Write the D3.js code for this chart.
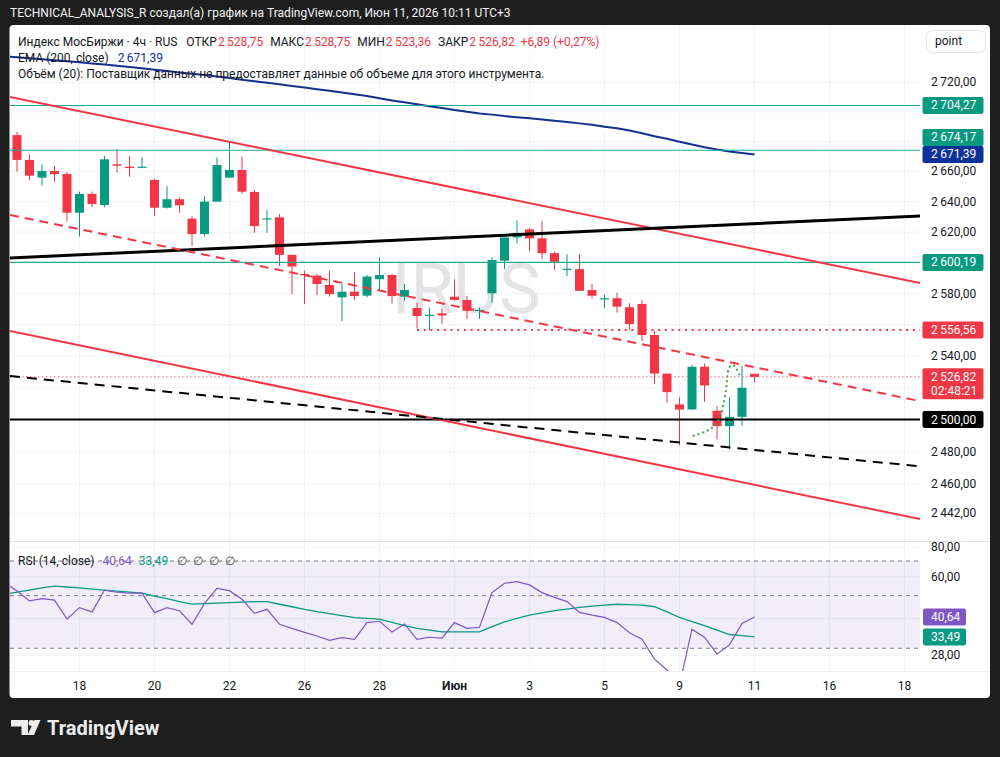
<!DOCTYPE html>
<html lang="ru">
<head>
<meta charset="UTF-8">
<title>Индекс МосБиржи 4ч</title>
<script src="https://d3js.org/d3.v7.min.js"></script>
<style>
  body{margin:0;background:#1e1e1e;}
  svg{display:block;font-family:Roboto,"Noto Sans",sans-serif;font-size:12px;}
</style>
</head>
<body>
<svg width="1000" height="757"></svg>
<script>
// 4h bars, index 0..59 (3 bars per trading day)
const opens  = [2684.3,2667.7,2655.9,2660.3,2658.3,2632.7,2645.1,2637.8,2664.8,2663.2,2662.8,2654.4,2636.0,2641.6,2628.8,2618.7,2640.0,2655.9,2661.0,2646.4,
                2628.6,2629.7,2605.1,2592.7,2591.6,2585.6,2577.6,2581.2,2578.7,2589.3,2592.0,2578.0,2570.7,2566.2,2567.3,2578.0,2575.9,2569.2,2580.2,2601.3,
                2616.5,2621.8,2615.9,2606.2,2595.8,2595.8,2582.3,2576.7,2577.0,2571.2,2573.3,2553.4,2528.9,2509.5,2506.3,2533.2,2505.5,2495.9,2501.7,2528.75];
const highs  = [2686.6,2671.6,2664.8,2663.8,2659.7,2646.6,2646.6,2670.3,2674.8,2670.3,2669.4,2655.1,2650.3,2642.4,2630.5,2643.7,2669.4,2679.2,2669.9,2647.7,
                2634.5,2631.7,2605.1,2594.8,2592.7,2594.8,2586.2,2593.8,2592.0,2603.3,2592.7,2586.2,2574.1,2571.0,2570.5,2589.2,2578.4,2571.1,2603.5,2616.5,
                2627.7,2622.4,2627.3,2607.2,2605.5,2605.7,2586.2,2579.1,2580.6,2573.8,2575.9,2556.1,2528.9,2513.9,2534.3,2535.3,2508.4,2513.9,2533.8,2528.75];
const lows   = [2659.9,2654.4,2650.6,2653.3,2627.0,2617.0,2636.3,2636.3,2659.2,2656.5,2662.8,2630.5,2635.6,2632.7,2610.9,2617.0,2640.0,2655.9,2645.1,2619.5,
                2619.5,2597.9,2579.7,2573.3,2579.1,2578.0,2562.3,2575.9,2577.6,2582.3,2573.7,2575.4,2557.5,2556.6,2560.4,2575.4,2563.8,2563.8,2574.1,2595.8,
                2612.6,2607.2,2602.3,2595.3,2591.4,2581.8,2577.0,2570.6,2567.7,2556.6,2549.6,2522.3,2510.5,2483.9,2506.3,2511.1,2487.6,2481.4,2496.0,2523.36];
const closes = [2667.7,2657.2,2660.3,2658.3,2632.7,2645.1,2638.5,2668.1,2663.8,2662.3,2663.2,2636.0,2641.6,2637.6,2618.7,2640.0,2664.3,2661.0,2646.6,2623.9,
                2629.0,2605.1,2597.5,2592.0,2586.2,2579.7,2581.2,2578.4,2591.0,2592.0,2578.4,2582.3,2565.6,2566.4,2565.9,2575.9,2568.9,2569.5,2601.8,2616.5,
                2619.5,2615.9,2606.2,2600.6,2596.1,2581.8,2578.6,2577.0,2571.6,2560.4,2553.4,2528.9,2517.2,2506.3,2533.2,2521.4,2495.9,2501.7,2519.93,2526.82];

// indicators start one bar before the first visible candle (bar -1 .. 59)
const ema200 = [2737.8,2737.1,2736.4,2735.7,2735.0,2734.3,2733.6,2732.9,2732.1,2731.3,2730.4,2729.5,2728.6,2727.7,2726.7,2725.9,2724.9,2723.9,2722.9,2721.8,
                2720.7,2719.7,2718.6,2717.5,2716.4,2715.3,2714.2,2713.1,2711.9,2710.7,2709.1,2707.7,2706.4,2705.1,2703.8,2702.5,2701.3,2700.0,2698.9,2698.1,
                2697.1,2696.3,2695.6,2694.8,2693.9,2693.1,2692.2,2691.2,2690.0,2688.9,2687.4,2685.5,2683.6,2681.9,2679.8,2678.0,2676.2,2674.6,2673.3,2672.3,2671.39];
const rsi    = [56.9,52.3,47.5,48.6,47.9,39.8,44.5,42.7,52.8,51.7,51.2,51.2,42.4,44.5,43.2,37.9,46.4,53.7,52.5,48.3,
                42.1,43.8,37.9,36.4,35.0,33.8,32.4,33.3,32.7,38.5,39.0,35.1,38.0,32.7,33.4,33.1,38.5,36.4,36.8,51.5,
                56.4,57.3,55.5,51.5,49.2,47.2,42.5,41.4,40.5,38.5,34.9,32.8,27.0,24.3,21.0,36.1,33.4,28.4,31.0,38.2,40.64];
const rsiMa  = [50.6,51.7,52.8,53.9,54.9,54.4,53.9,53.3,52.8,52.3,51.7,51.2,49.8,48.6,47.2,46.1,46.3,46.5,46.7,47.0,
                47.2,47.2,46.0,44.9,43.8,42.8,42.0,41.2,40.4,40.1,39.8,38.6,37.4,36.4,35.8,35.2,35.2,35.2,35.2,37.0,
                38.8,40.1,41.4,42.3,43.2,43.9,44.6,45.2,45.6,46.0,45.8,45.6,44.9,42.7,40.5,38.9,37.4,35.8,34.3,33.9,33.49];

// drawings: [bar, price] anchors
const upperChannel = [[0,2709.1],[60,2607.2]];
const lowerChannel = [[0,2555.1],[60,2457.9]];
const risingLine   = [[0,2603.3],[60,2625.9]];
const redDashed    = [[0,2630.3],[60,2531.3]];
const blackDashed  = [[0,2526.9],[60,2480.3]];
const tealLevels   = [2704.27,2674.17,2600.19];
const roundLevel   = 2500;
const swingLow     = [32,2556.56];
const arcPoints    = [[54.06,2489.7],[55.22,2493.0],[55.84,2496.6],[56.24,2501.7],[56.5,2509.1],[56.72,2518.4],
                      [56.82,2526.9],[56.98,2532.8],[57.26,2534.3],[57.58,2531.6],[57.78,2528.0]];

const priceTicks = [2720,2700,2680,2660,2640,2620,2600,2580,2560,2540,2520,2500,2480,2460,2442];
const rsiTicks   = [80,60,40,28];
const tickBars   = [5,11,17,23,29,35,41,47,53,59,65,71];
const tickLabels = ["18","20","22","26","28","Июн","3","5","9","11","16","18"];

const up="#089981", dn="#f23645", ink="#131722", blue="#0c3299", purple="#7e57c2";
const L=10, R=920, T=25, mainB=541, rsiT=542, rsiB=671;

const loc = d3.formatLocale({decimal:",", thousands:"\u2009", grouping:[3], currency:["",""]});
const f2 = loc.format(",.2f");

const x  = d3.scaleLinear().domain([0,59]).range([17,754.5]);
const y  = d3.scaleLog().domain([2442,2720]).range([513.4,82.3]);
const yR = d3.scaleLog().domain([30,70]).range([648.3,561]);

const svg = d3.select("svg");
svg.append("rect").attr("width",1000).attr("height",757).attr("fill","#1e1e1e");
svg.append("text").attr("x",10).attr("y",17).attr("fill","#f2f2f2").style("font-size","12px")
  .text("TECHNICAL_ANALYSIS_R создал(а) график на TradingView.com, Июн 11, 2026 10:11 UTC+3");
svg.append("rect").attr("x",9.5).attr("y",25).attr("width",980.5).attr("height",673).attr("rx",4).attr("fill","#fff");

const defs = svg.append("defs");
defs.append("clipPath").attr("id","cm").append("rect").attr("x",L).attr("y",T).attr("width",R-L).attr("height",mainB-T);
defs.append("clipPath").attr("id","cr").append("rect").attr("x",L).attr("y",rsiT).attr("width",R-L).attr("height",rsiB-rsiT);
defs.append("clipPath").attr("id","ca").append("rect").attr("x",R).attr("y",rsiT).attr("width",70).attr("height",rsiB-rsiT);

// grid
const grid = svg.append("g").attr("stroke","#f0f3fa").attr("stroke-width",1);
grid.selectAll(".vg").data(tickBars).enter().append("line")
  .attr("x1",d=>x(d)).attr("x2",d=>x(d)).attr("y1",T).attr("y2",rsiB);
grid.append("g").attr("clip-path","url(#cm)").selectAll("line").data(priceTicks).enter().append("line")
  .attr("x1",L).attr("x2",R).attr("y1",d=>y(d)).attr("y2",d=>y(d));
grid.append("g").attr("clip-path","url(#cr)").selectAll("line").data(rsiTicks).enter().append("line")
  .attr("x1",L).attr("x2",R).attr("y1",d=>yR(d)).attr("y2",d=>yR(d));
svg.append("line").attr("x1",L).attr("x2",990).attr("y1",mainB+0.5).attr("y2",mainB+0.5).attr("stroke","#e0e3eb");
svg.append("line").attr("x1",L).attr("x2",990).attr("y1",rsiB+0.5).attr("y2",rsiB+0.5).attr("stroke","#eef0f4");

// main pane
const main = svg.append("g").attr("clip-path","url(#cm)");
main.append("text").attr("x",466).attr("y",313).attr("text-anchor","middle")
  .style("font-size","70px").attr("fill","#e3e4e6").text("IRUS");

// current price line
main.append("line").attr("x1",L).attr("x2",R).attr("y1",y(closes[59])).attr("y2",y(closes[59]))
  .attr("stroke",dn).attr("stroke-width",1).attr("stroke-dasharray","1.5,2.5").attr("opacity",0.8);

// candles
const idx = d3.range(opens.length);
const cg = main.selectAll(".c").data(idx).enter().append("g").attr("fill",i=>closes[i]>=opens[i]?up:dn).attr("stroke",i=>closes[i]>=opens[i]?up:dn);
cg.append("line").attr("x1",i=>x(i)).attr("x2",i=>x(i)).attr("y1",i=>y(highs[i])).attr("y2",i=>y(lows[i])).attr("stroke-width",1);
cg.append("rect").attr("x",i=>x(i)-4.5).attr("width",9).attr("stroke","none")
  .attr("y",i=>y(Math.max(opens[i],closes[i])))
  .attr("height",i=>Math.max(1.2,y(Math.min(opens[i],closes[i]))-y(Math.max(opens[i],closes[i]))));

// EMA 200
const ind = d3.line().x((d,i)=>x(i-1));
main.append("path").datum(ema200).attr("d",ind.y(d=>y(d))).attr("fill","none").attr("stroke","#13308f").attr("stroke-width",2);

// drawings
function ray(pts, color, w, dash){
  const [a,b] = pts, x1=x(a[0]), y1=y(a[1]), x2=x(b[0]), y2=y(b[1]), k=(y2-y1)/(x2-x1);
  main.append("line").attr("x1",L).attr("y1",y1+(L-x1)*k).attr("x2",R).attr("y2",y1+(R-x1)*k)
    .attr("stroke",color).attr("stroke-width",w).attr("stroke-dasharray",dash||null);
}
main.selectAll(".lv").data(tealLevels).enter().append("line")
  .attr("x1",L).attr("x2",R).attr("y1",d=>y(d)).attr("y2",d=>y(d)).attr("stroke","#22ab94").attr("stroke-width",1.2);
main.append("line").attr("x1",L).attr("x2",R).attr("y1",y(roundLevel)).attr("y2",y(roundLevel)).attr("stroke","#000").attr("stroke-width",2);
main.append("line").attr("x1",x(swingLow[0])).attr("x2",R).attr("y1",y(swingLow[1])).attr("y2",y(swingLow[1]))
  .attr("stroke",dn).attr("stroke-width",2).attr("stroke-dasharray","2,4.7");
ray(upperChannel, dn, 2);
ray(lowerChannel, dn, 2);
ray(risingLine, "#000", 3);
ray(redDashed, dn, 2, "9,6");
ray(blackDashed, "#000", 2, "10,7");
main.append("path").datum(arcPoints).attr("fill","none").attr("stroke","#43a047").attr("stroke-width",2)
  .attr("stroke-dasharray","2,3").attr("d",d3.line().x(d=>x(d[0])).y(d=>y(d[1])).curve(d3.curveCatmullRom));

// legend
const lg = svg.append("g").attr("fill",ink).style("font-size","12px");
const l1 = lg.append("text").attr("x",18).attr("y",46);
l1.append("tspan").text("Индекс МосБиржи · 4ч · RUS");
[["ОТКР",opens[59]],["МАКС",highs[59]],["МИН",lows[59]],["ЗАКР",closes[59]]].forEach(([k,v],j)=>{
  l1.append("tspan").attr("dx",j?7:9).text(k);
  l1.append("tspan").attr("dx",1).attr("fill",dn).text(f2(v));
});
const chg = closes[59]-closes[58];
l1.append("tspan").attr("dx",6).attr("fill",dn).text("+"+f2(chg)+" (+"+f2(chg/closes[58]*100)+"%)");
const l2 = lg.append("text").attr("x",18).attr("y",62);
l2.append("tspan").text("EMA (200, close)");
l2.append("tspan").attr("dx",9).attr("fill",blue).text(f2(ema200[ema200.length-1]));
lg.append("text").attr("x",18).attr("y",78).text("Объём (20): Поставщик данных не предоставляет данные об объеме для этого инструмента.");

// RSI pane
const rp = svg.append("g").attr("clip-path","url(#cr)");
rp.append("rect").attr("x",L).attr("width",R-L).attr("y",yR(70)).attr("height",yR(30)-yR(70)).attr("fill",purple).attr("opacity",0.1);
rp.selectAll(".b").data([70,50,30]).enter().append("line").attr("x1",L).attr("x2",R).attr("y1",d=>yR(d)).attr("y2",d=>yR(d))
  .attr("stroke","#787b86").attr("stroke-dasharray","4,4");
rp.append("path").datum(rsiMa).attr("d",ind.y(d=>yR(d))).attr("fill","none").attr("stroke",up).attr("stroke-width",1.3);
rp.append("path").datum(rsi).attr("d",ind.y(d=>yR(d))).attr("fill","none").attr("stroke",purple).attr("stroke-width",1.2);
const rl = svg.append("text").attr("x",18).attr("y",565).attr("fill",ink).style("font-size","12px");
rl.append("tspan").text("RSI (14, close)");
rl.append("tspan").attr("dx",8).attr("fill",purple).text(f2(rsi[rsi.length-1]));
rl.append("tspan").attr("dx",7).attr("fill",up).text(f2(rsiMa[rsiMa.length-1]));
rl.append("tspan").attr("dx",9).attr("fill","#555").attr("letter-spacing","6px").text("∅∅∅∅");

// price tags, pushed apart bottom-up
const tags = [
  {v:tealLevels[0], c:up}, {v:tealLevels[1], c:up}, {v:ema200[ema200.length-1], c:blue},
  {v:tealLevels[2], c:up}, {v:swingLow[1], c:dn}, {v:closes[59], c:dn, sub:"02:48:21"}, {v:roundLevel, c:"#000"}
].map(t=>({...t, cy:y(t.v), h:t.sub?31:17})).sort((a,b)=>b.cy-a.cy);
let lim = 1e9;
tags.forEach(t=>{ if(t.cy-8.5+t.h>lim) t.cy=lim-t.h+8.5; lim=t.cy-8.5; });
const rsiTags = [[rsi[rsi.length-1],purple],[rsiMa[rsiMa.length-1],up]].map(d=>({v:d[0], c:d[1], cy:yR(d[0]), h:17}));
const covered = (cy, list) => list.some(t => cy > t.cy-8.5-1 && cy < t.cy-8.5+t.h+1);

// price axis (labels under a tag are hidden)
svg.append("g").attr("fill",ink).selectAll("text").data(priceTicks.filter(d=>!covered(y(d),tags))).enter().append("text")
  .attr("x",931).attr("y",d=>y(d)+4).text(d=>f2(d));
svg.append("g").attr("fill",ink).attr("clip-path","url(#ca)").selectAll("text").data(rsiTicks.filter(d=>!covered(yR(d),rsiTags))).enter().append("text")
  .attr("x",931).attr("y",d=>yR(d)+4).text(d=>f2(d));

const tg = svg.append("g").selectAll("g").data(tags).enter().append("g");
tg.append("rect").attr("x",922.5).attr("y",d=>d.cy-8.5).attr("width",61).attr("height",d=>d.h).attr("rx",2).attr("fill",d=>d.c);
tg.append("text").attr("x",931).attr("y",d=>d.cy+4).attr("fill","#fff").text(d=>f2(d.v));
tg.filter(d=>d.sub).append("text").attr("x",931).attr("y",d=>d.cy+18).attr("fill","#fff").text(d=>d.sub);

const rt = svg.append("g").selectAll("g").data(rsiTags).enter().append("g");
rt.append("rect").attr("x",923).attr("y",d=>d.cy-8.5).attr("width",43).attr("height",17).attr("rx",2).attr("fill",d=>d.c);
rt.append("text").attr("x",931).attr("y",d=>d.cy+4).attr("fill","#fff").text(d=>f2(d.v));

// unit box
svg.append("rect").attr("x",926.5).attr("y",30.5).attr("width",59).attr("height",22).attr("rx",6).attr("fill","#fff").attr("stroke","#e0e3eb");
svg.append("text").attr("x",935).attr("y",45).attr("fill",ink).text("point");

// time axis
svg.append("g").selectAll("text").data(tickBars).enter().append("text")
  .attr("x",d=>x(d)).attr("y",690).attr("text-anchor","middle").attr("fill",ink)
  .style("font-weight",(d,i)=>tickLabels[i]==="Июн"?"700":"400").text((d,i)=>tickLabels[i]);

// logo
const logo = svg.append("g").attr("fill","#ececec");
logo.append("path").attr("d","M11,720 H28 V735 H21.5 V726.5 H11 Z");
logo.append("circle").attr("cx",31.5).attr("cy",723).attr("r",3);
logo.append("path").attr("d","M34.5,720 H40.5 L34,735 H27.5 Z");
logo.append("text").attr("x",47).attr("y",735).style("font-size","20px").style("font-weight","700").text("TradingView");
</script>
</body>
</html>
